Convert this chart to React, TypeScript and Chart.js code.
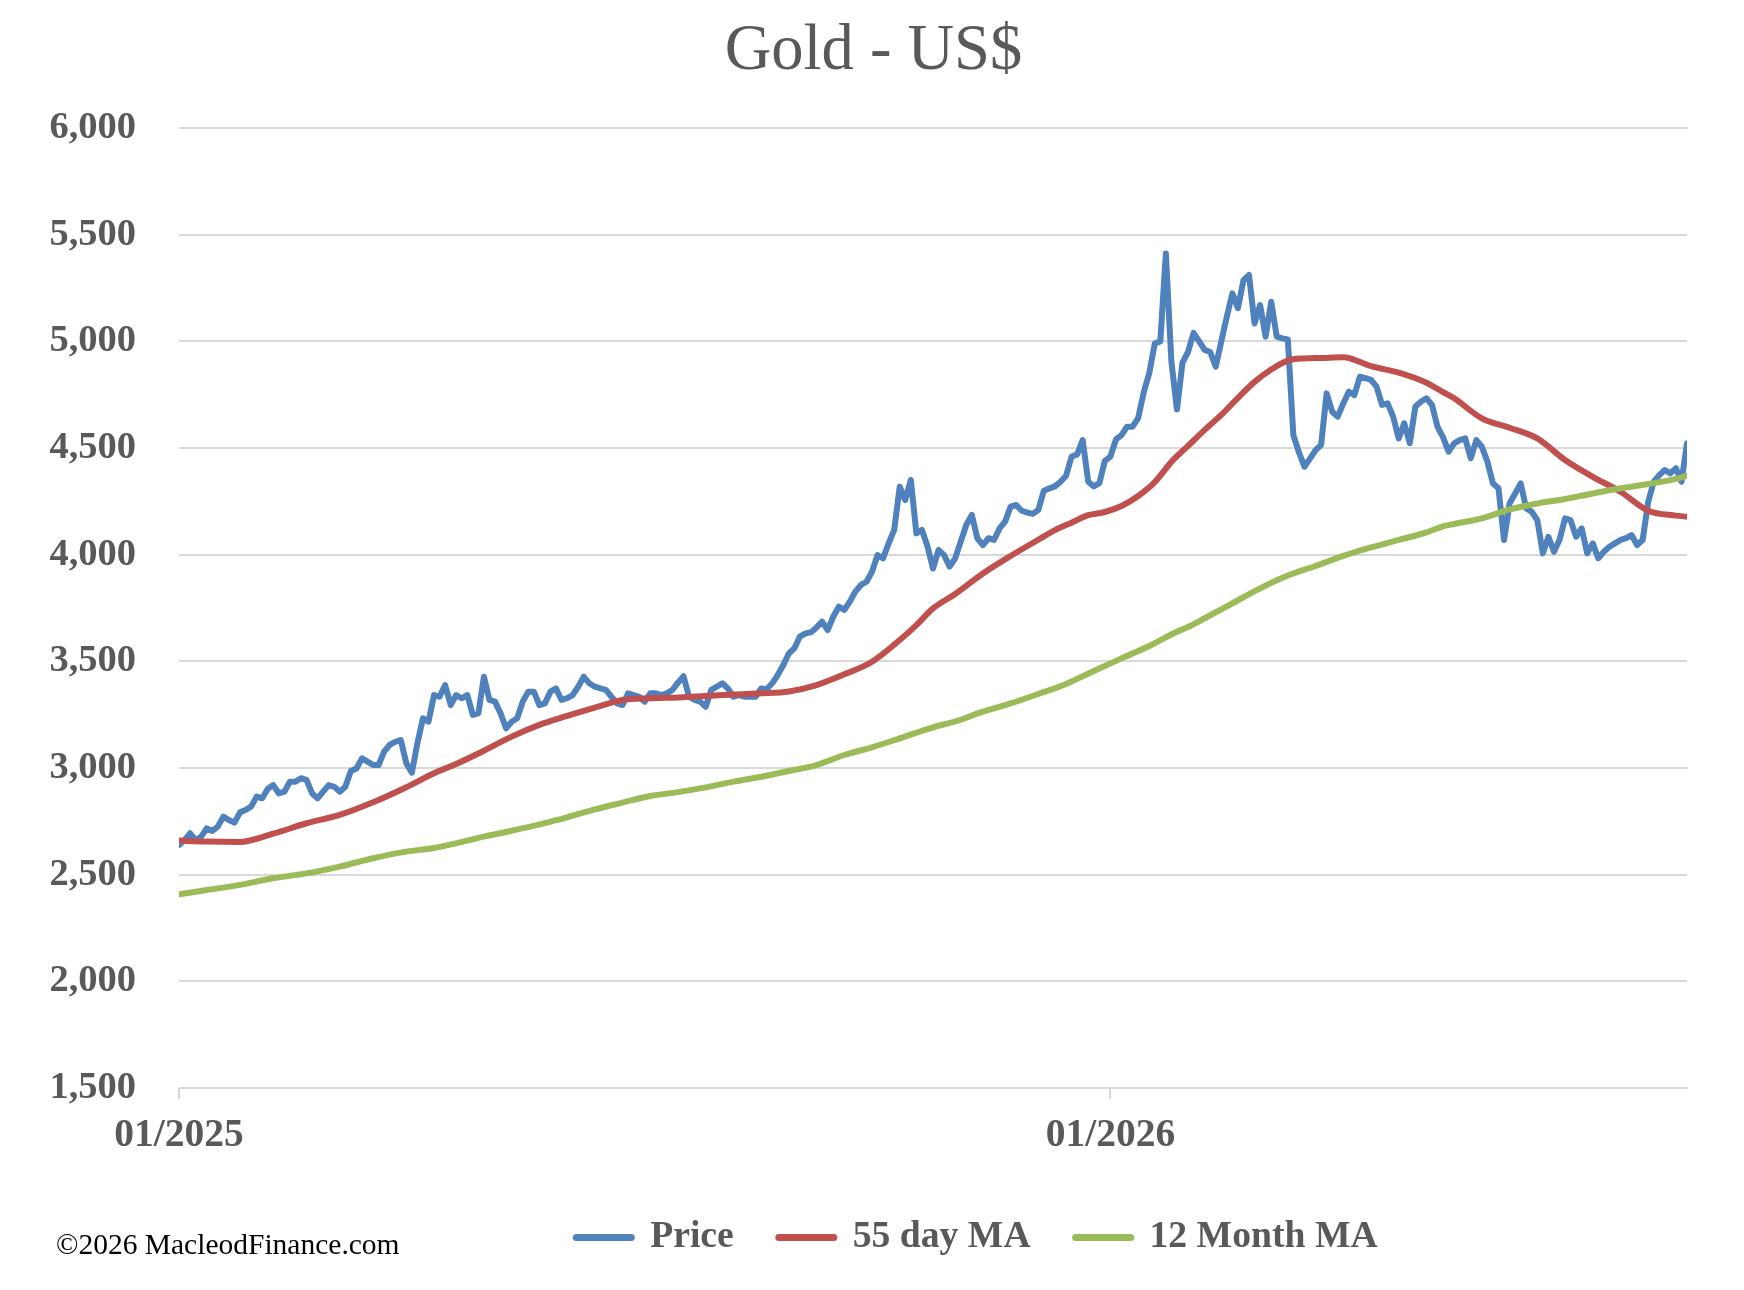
import React, { useEffect, useRef } from "react";
import { Chart, registerables } from "chart.js";

Chart.register(...registerables);

const FONT = '"Liberation Serif", "Times New Roman", serif';

// Daily-ish gold price samples (US$), index = trading step from 01/2025
const price = [
  2639, 2662, 2694, 2662, 2678, 2717, 2705, 2725, 2772, 2756,
  2744, 2792, 2803, 2819, 2866, 2858, 2902, 2920, 2881, 2889,
  2936, 2936, 2952, 2944, 2881, 2858, 2889, 2920, 2912, 2889,
  2912, 2986, 2998, 3045, 3030, 3014, 3014, 3077, 3108, 3123,
  3131, 3022, 2978, 3116, 3233, 3217, 3342, 3334, 3389, 3295,
  3342, 3327, 3342, 3249, 3256, 3428, 3319, 3311, 3256, 3186,
  3217, 3233, 3311, 3358, 3358, 3295, 3303, 3358, 3373, 3319,
  3327, 3342, 3381, 3428, 3397, 3381, 3373, 3366, 3334, 3303,
  3295, 3350, 3342, 3334, 3311, 3350, 3350, 3342, 3350, 3366,
  3400, 3430, 3334, 3319, 3311, 3287, 3366, 3381, 3397, 3373,
  3334, 3342, 3334, 3334, 3334, 3373, 3369, 3397, 3436, 3483,
  3537, 3561, 3616, 3631, 3636, 3659, 3686, 3647, 3709, 3756,
  3741, 3780, 3827, 3858, 3873, 3920, 3998, 3983, 4053, 4116,
  4319, 4256, 4350, 4100, 4116, 4040, 3935, 4022, 3998, 3944,
  3983, 4061, 4139, 4186, 4077, 4045, 4077, 4069, 4123, 4155,
  4225, 4233, 4206, 4197, 4191, 4210, 4300, 4311, 4320, 4342,
  4370, 4460, 4470, 4537, 4342, 4320, 4335, 4440, 4460, 4540,
  4560, 4600, 4600, 4640, 4760, 4850, 4990, 5000, 5412, 4905,
  4680, 4900, 4950, 5040, 5000, 4960, 4950, 4881, 5000, 5116,
  5225, 5155, 5287, 5311, 5084, 5170, 5022, 5186, 5022, 5014,
  5009, 4560, 4480, 4412, 4450, 4490, 4514, 4756, 4670, 4647,
  4709, 4764, 4748, 4834, 4827, 4819, 4788, 4702, 4709, 4647,
  4545, 4616, 4522, 4694, 4717, 4733, 4702, 4600, 4550, 4483,
  4522, 4537, 4545, 4452, 4537, 4506, 4436, 4334, 4311, 4069,
  4240, 4287, 4334, 4217, 4201, 4162, 4006, 4084, 4014, 4069,
  4170, 4162, 4084, 4123, 4006, 4053, 3983, 4014, 4037, 4053,
  4069, 4077, 4092, 4045, 4069, 4248, 4342, 4373, 4397, 4381,
  4405, 4342, 4522,
];

// 55 day moving average, sampled at these steps
const ma55Idx = [
  0, 5, 11, 17, 23, 29, 35, 41, 46, 50, 55, 60, 65, 70, 75, 80, 85, 90, 95,
  100, 105, 110, 115, 120, 125, 130, 133, 136, 140, 145, 150, 155, 158, 161,
  164, 167, 170, 173, 176, 179, 182, 185, 188, 191, 194, 197, 200, 203, 206,
  210, 215, 220, 225, 228, 230, 235, 240, 245, 250, 255, 260, 265, 270, 272,
];
const ma55Val = [
  2660, 2655, 2653, 2692, 2741, 2780, 2839, 2910, 2975, 3019, 3081, 3147, 3202,
  3244, 3283, 3319, 3327, 3331, 3337, 3345, 3350, 3359, 3389, 3439, 3498, 3600,
  3670, 3748, 3816, 3912, 3994, 4070, 4115, 4150, 4185, 4200, 4228, 4275, 4340,
  4435, 4510, 4585, 4655, 4735, 4810, 4868, 4910, 4920, 4922, 4925, 4884, 4853,
  4806, 4762, 4733, 4639, 4595, 4545, 4444, 4365, 4295, 4206, 4183, 4178,
];

// 12 month moving average, sampled at these steps
const ma12mIdx = [
  0, 5, 11, 17, 23, 29, 35, 41, 46, 50, 55, 60, 65, 70, 75, 80, 85, 90, 95,
  100, 105, 110, 115, 120, 125, 130, 136, 140, 145, 150, 155, 160, 165, 170,
  175, 180, 182, 185, 190, 195, 200, 205, 210, 215, 220, 225, 228, 230, 235,
  240, 245, 250, 255, 260, 265, 270, 272,
];
const ma12mVal = [
  2408, 2428, 2452, 2483, 2506, 2538, 2577, 2608, 2625, 2647, 2678, 2706, 2736,
  2769, 2806, 2838, 2869, 2887, 2909, 2936, 2959, 2986, 3014, 3061, 3097, 3139,
  3191, 3218, 3264, 3303, 3347, 3394, 3455, 3514, 3572, 3639, 3661, 3702, 3772,
  3842, 3902, 3947, 3994, 4034, 4069, 4105, 4133, 4144, 4170, 4212, 4240, 4261,
  4287, 4311, 4331, 4355, 4370,
];

const xTickIndex = [0, 168];
const xTickLabels = ["01/2025", "01/2026"];
const seriesNames = ["Price", "55 day MA", "12 Month MA"];
const seriesColors = ["#4f81bd", "#c0504d", "#9bbb59"];
const Y_MIN = 1500;
const Y_MAX = 6000;
const Y_STEP = 500;

const LEGEND_CENTER_X = 977;
const TITLE_SHIFT_X = 30;

export default function App() {
  const canvasRef = useRef<HTMLCanvasElement | null>(null);

  useEffect(() => {
    document.body.style.margin = "0";
    const canvas = canvasRef.current;
    if (!canvas) return;

    const boxShift = {
      id: "boxShift",
      afterLayout(chart: any) {
        const lg = chart.legend;
        if (lg) {
          const dx = LEGEND_CENTER_X - (lg.left + lg.right) / 2;
          lg.left += dx;
          lg.right += dx;
        }
        const tt = chart.titleBlock;
        if (tt) {
          tt.left += TITLE_SHIFT_X;
          tt.right += TITLE_SHIFT_X;
        }
      },
    };

    const common = {
      pointRadius: 0,
      borderWidth: 6,
      borderJoinStyle: "round",
      borderCapStyle: "round",
      fill: false,
    };

    const chart = new Chart(canvas, {
      type: "line",
      data: {
        datasets: [
          {
            ...common,
            label: seriesNames[0],
            data: price.map((y, i) => ({ x: i, y })),
            borderColor: seriesColors[0],
            backgroundColor: seriesColors[0],
            tension: 0,
            order: 2,
          },
          {
            ...common,
            label: seriesNames[1],
            data: ma55Idx.map((x, k) => ({ x, y: ma55Val[k] })),
            borderColor: seriesColors[1],
            backgroundColor: seriesColors[1],
            cubicInterpolationMode: "monotone",
            order: 1,
          },
          {
            ...common,
            label: seriesNames[2],
            data: ma12mIdx.map((x, k) => ({ x, y: ma12mVal[k] })),
            borderColor: seriesColors[2],
            backgroundColor: seriesColors[2],
            cubicInterpolationMode: "monotone",
            order: 0,
          },
        ],
      },
      options: {
        animation: false,
        responsive: false,
        events: [],
        layout: { padding: { left: 0, right: 57, top: 0, bottom: 23.65 } },
        scales: {
          x: {
            type: "linear",
            min: 0,
            max: price.length - 1,
            afterBuildTicks: (scale: any) => {
              scale.ticks = xTickIndex.map((v) => ({ value: v }));
            },
            afterFit: (scale: any) => {
              scale.height = 85.65;
            },
            ticks: {
              autoSkip: false,
              maxRotation: 0,
              padding: 13.4,
              color: "#595959",
              font: { family: FONT, size: 39.5, weight: "bold" },
              callback: (v: any) => {
                const k = xTickIndex.indexOf(Number(v));
                return k >= 0 ? xTickLabels[k] : "";
              },
            },
            grid: {
              drawOnChartArea: false,
              drawTicks: true,
              tickLength: 11,
              color: "#d9d9d9",
              lineWidth: 2,
            },
            border: { display: false },
          },
          y: {
            type: "linear",
            min: Y_MIN,
            max: Y_MAX,
            afterFit: (scale: any) => {
              scale.width = 179;
            },
            ticks: {
              stepSize: Y_STEP,
              padding: 43,
              color: "#595959",
              font: { family: FONT, size: 38.5, weight: "bold" },
            },
            grid: {
              color: "#d9d9d9",
              lineWidth: 2,
              drawTicks: false,
            },
            border: { display: false },
          },
        },
        plugins: {
          title: {
            display: true,
            text: "Gold - US$",
            color: "#595959",
            font: { family: FONT, size: 64.5, weight: "normal", lineHeight: 1.2 },
            padding: { top: 13, bottom: 37.6 },
          },
          legend: {
            display: true,
            position: "bottom",
            labels: {
              usePointStyle: true,
              pointStyle: "line",
              pointStyleWidth: 55,
              padding: 45,
              color: "#595959",
              font: { family: FONT, size: 37.7, weight: "bold" },
              sort: (a: any, b: any) => a.datasetIndex - b.datasetIndex,
              generateLabels: (c: any) =>
                (Chart.defaults.plugins.legend.labels as any)
                  .generateLabels(c)
                  .map((l: any) => ({
                    ...l,
                    lineWidth: 7,
                    lineCap: "round",
                    pointStyle: "line",
                  })),
            },
          },
          tooltip: { enabled: false },
        },
      } as any,
      plugins: [boxShift],
    });

    return () => chart.destroy();
  }, []);

  return (
    <div style={{ position: "relative", width: 1744, height: 1290, background: "#ffffff" }}>
      <canvas
        ref={canvasRef}
        width={1744}
        height={1290}
        style={{ display: "block", width: 1744, height: 1290 }}
      />
      <div
        style={{
          position: "absolute",
          left: 56,
          top: 1230.4,
          fontFamily: FONT,
          fontSize: 29.5,
          lineHeight: "29.5px",
          color: "#000000",
          whiteSpace: "nowrap",
        }}
      >
        ©2026 MacleodFinance.com
      </div>
    </div>
  );
}
